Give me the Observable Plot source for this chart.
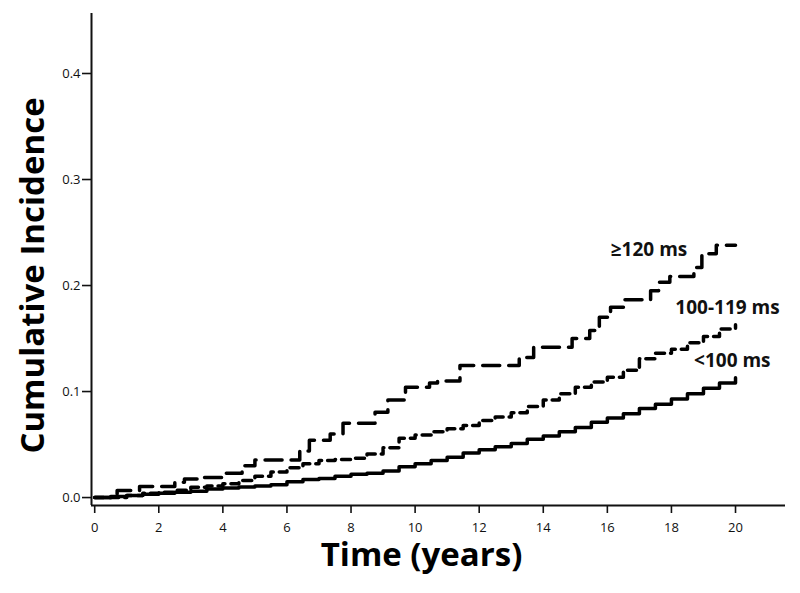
<!DOCTYPE html>
<html><head><meta charset="utf-8">
<script src="https://cdn.jsdelivr.net/npm/d3@7"></script>
<script src="https://cdn.jsdelivr.net/npm/@observablehq/plot@0.6"></script>
<style>body{margin:0;background:#fff}</style>
</head><body><div id="chart"></div>
<script>
// <100 ms (solid)
const tLt100 = [0,0.5,1,1.5,2,2.5,3,3.5,4,4.5,5,5.5,6,6.5,7,7.5,8,8.5,9,9.5,10,10.5,11,11.5,12,12.5,13,13.5,14,14.5,15,15.5,16,16.5,17,17.5,18,18.5,19,19.5,20];
const vLt100 = [0,0.001,0.002,0.003,0.004,0.005,0.006,0.008,0.009,0.010,0.011,0.012,0.015,0.017,0.018,0.020,0.022,0.023,0.025,0.029,0.032,0.035,0.038,0.042,0.045,0.048,0.051,0.055,0.058,0.062,0.066,0.071,0.075,0.079,0.084,0.088,0.093,0.098,0.103,0.108,0.113];
// 100-119 ms (short dashes)
const tMid = [0,1,1.5,2,2.5,3,3.5,4,4.5,5,5.5,6,6.5,7,7.5,8,8.5,9,9.5,10,10.5,11,11.5,12,12.5,13,13.5,14,14.5,15,15.5,16,16.5,17,17.5,18,18.5,19,19.5,20];
const vMid = [0,0.002,0.004,0.005,0.007,0.0097,0.011,0.013,0.016,0.020,0.024,0.028,0.032,0.035,0.036,0.037,0.041,0.047,0.056,0.059,0.062,0.065,0.068,0.0726,0.076,0.080,0.086,0.092,0.098,0.104,0.109,0.1135,0.120,0.131,0.136,0.140,0.146,0.152,0.159,0.163];
// >=120 ms (long dashes)
const tHigh = [0,0.7,1.4,2.5,2.8,3.4,4.05,4.6,5.0,6.4,6.7,7.35,7.75,8.75,9.15,9.7,10.45,10.7,11.4,13.25,13.7,14.9,15.45,15.75,16.1,16.55,17.35,17.6,17.95,18.7,18.95,19.4,20];
const vHigh = [0,0.0066,0.0104,0.0145,0.0176,0.019,0.023,0.030,0.0355,0.044,0.054,0.060,0.070,0.0805,0.092,0.104,0.108,0.110,0.1245,0.132,0.1417,0.150,0.1575,0.170,0.1795,0.1865,0.195,0.203,0.2085,0.217,0.230,0.238,0.238];

const xTicks = [0,2,4,6,8,10,12,14,16,18,20];
const yTicks = [0,0.1,0.2,0.3,0.4];
const xDomain = [-0.1, 21.56];
const yDomain = [-0.0075, 0.4566];

const labelText = ["≥120 ms", "100-119 ms", "<100 ms"];
const labelT = [17.3, 19.75, 19.9];
const labelV = [0.234, 0.179, 0.129];

const toRows = (ts, vs) => ts.map((t, i) => ({t, v: vs[i]}));
const labels = labelText.map((s, i) => ({s, t: labelT[i], v: labelV[i]}));

const chart = Plot.plot({
  width: 800, height: 593,
  marginLeft: 91, marginRight: 15, marginTop: 13, marginBottom: 88,
  style: {fontFamily: "'Open Sans', sans-serif", fontSize: "13px", color: "#111", background: "#fff"},
  x: {domain: xDomain},
  y: {domain: yDomain},
  marks: [
    Plot.axisX({ticks: xTicks, tickSize: 8, tickPadding: 9, tickFormat: d => String(d), label: null, strokeWidth: 1.6, fontSize: 13}),
    Plot.axisY({ticks: yTicks, tickSize: 9, tickPadding: 2, tickFormat: d3.format(".1f"), label: null, strokeWidth: 1.6, fontSize: 13}),
    Plot.ruleX([xDomain[0]], {stroke: "#111", strokeWidth: 2}),
    Plot.ruleY([yDomain[0]], {stroke: "#111", strokeWidth: 2}),
    Plot.line(toRows(tLt100, vLt100), {x: "t", y: "v", curve: "step-after", stroke: "#000", strokeWidth: 3.5}),
    Plot.line(toRows(tMid, vMid), {x: "t", y: "v", curve: "step-after", stroke: "#000", strokeWidth: 3.5, strokeDasharray: "9,6"}),
    Plot.line(toRows(tHigh, vHigh), {x: "t", y: "v", curve: "step-after", stroke: "#000", strokeWidth: 3.5, strokeDasharray: "17,9"}),
    Plot.text(labels, {x: "t", y: "v", text: "s", fontSize: 19, fontWeight: "bold", fill: "#111", textAnchor: "middle"}),
    Plot.text(["Time (years)"], {frameAnchor: "bottom", textAnchor: "middle", lineAnchor: "middle", dx: -17, dy: 50, fontSize: 33, fontWeight: "bold", fill: "#000"}),
    Plot.text(["Cumulative Incidence"], {frameAnchor: "left", textAnchor: "middle", lineAnchor: "middle", rotate: -90, dx: -58, dy: 16, fontSize: 33, fontWeight: "bold", fill: "#000"})
  ]
});
document.getElementById("chart").appendChild(chart);
</script>
</body></html>
